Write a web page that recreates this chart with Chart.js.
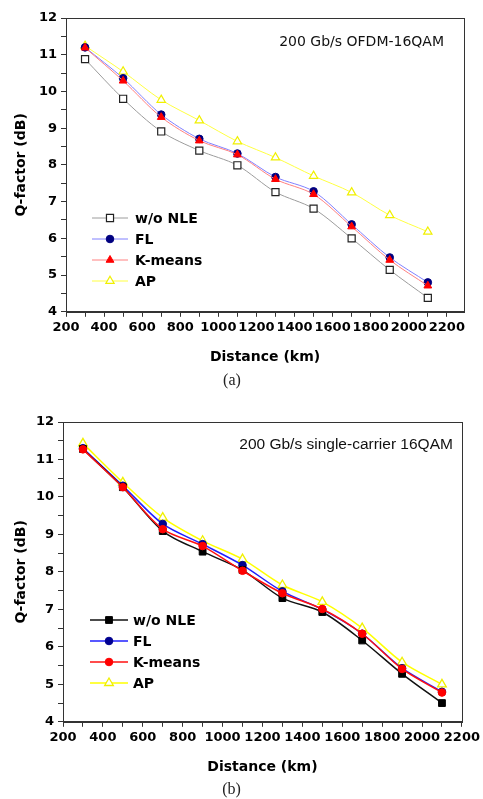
<!DOCTYPE html>
<html>
<head>
<meta charset="utf-8">
<script src="https://cdn.jsdelivr.net/npm/chart.js@4.4.1/dist/chart.umd.min.js"></script>
<style>
  body { margin: 0; background: #fff; width: 483px; height: 799px; overflow: hidden; }
  canvas { position: absolute; left: 0; }
  #chartA { top: 0; }
  #chartB { top: 400px; }
</style>
</head>
<body>
<canvas id="chartA" width="483" height="390"></canvas>
<canvas id="chartB" width="483" height="399"></canvas>
<script>
// distance points (km), shared by both panels
const distances = [300, 500, 700, 900, 1100, 1300, 1500, 1700, 1900, 2100];
const seriesNames = ["w/o NLE", "FL", "K-means", "AP"];

// (a) 200 Gb/s OFDM-16QAM
const ofdmNoNle  = [10.88, 9.80, 8.91, 8.39, 7.99, 7.26, 6.81, 6.00, 5.14, 4.38];
const ofdmFL     = [11.20, 10.36, 9.37, 8.71, 8.31, 7.67, 7.28, 6.38, 5.48, 4.80];
const ofdmKmeans = [11.19, 10.29, 9.30, 8.66, 8.28, 7.61, 7.20, 6.32, 5.41, 4.71];
const ofdmAP     = [11.24, 10.54, 9.77, 9.21, 8.64, 8.20, 7.70, 7.25, 6.63, 6.18];

// (b) 200 Gb/s single-carrier 16QAM
const scNoNle  = [11.28, 10.26, 9.09, 8.54, 8.05, 7.30, 6.93, 6.17, 5.28, 4.50];
const scFL     = [11.30, 10.30, 9.28, 8.74, 8.18, 7.48, 7.00, 6.35, 5.43, 4.80];
const scKmeans = [11.27, 10.26, 9.14, 8.69, 8.03, 7.43, 7.01, 6.35, 5.41, 4.78];
const scAP     = [11.43, 10.39, 9.45, 8.83, 8.34, 7.65, 7.20, 6.50, 5.59, 5.00];

// tick marks: labelled ones plus a minor tick between each pair
const xTickValues = [200, 300, 400, 500, 600, 700, 800, 900, 1000, 1100, 1200,
  1300, 1400, 1500, 1600, 1700, 1800, 1900, 2000, 2100, 2200];
const xTickLabels = [200, 400, 600, 800, 1000, 1200, 1400, 1600, 1800, 2000, 2200];
const yTickValues = [4, 4.5, 5, 5.5, 6, 6.5, 7, 7.5, 8, 8.5, 9, 9.5, 10, 10.5, 11, 11.5, 12];
const yTickLabels = [4, 5, 6, 7, 8, 9, 10, 11, 12];

const sans = "'DejaVu Sans', Verdana, sans-serif";

// frame box, inner note text and inner legend
const notesPlugin = {
  id: "notes",
  afterDraw(chart, args, o) {
    const ctx = chart.ctx, a = chart.chartArea;
    ctx.save();
    ctx.strokeStyle = "#333";
    ctx.lineWidth = 1;
    ctx.strokeRect(Math.round(a.left) + 0.5, Math.round(a.top) + 0.5,
      Math.round(a.right - a.left), Math.round(a.bottom - a.top));

    ctx.font = o.noteFont;
    ctx.fillStyle = "#111";
    ctx.textAlign = "right";
    ctx.textBaseline = "middle";
    ctx.fillText(o.note, a.right - o.noteRight, a.top + o.noteTop);

    chart.data.datasets.forEach((ds, i) => {
      const y = a.top + o.legendTop + i * o.legendGap;
      const x0 = a.left + o.legendLeft;
      ctx.strokeStyle = ds.borderColor;
      ctx.lineWidth = ds.borderWidth;
      ctx.beginPath();
      ctx.moveTo(x0, y);
      ctx.lineTo(x0 + o.lineLen, y);
      ctx.stroke();
      ctx.fillStyle = ds.pointBackgroundColor;
      ctx.strokeStyle = ds.pointBorderColor;
      ctx.lineWidth = ds.pointBorderWidth;
      Chart.helpers.drawPoint(ctx, {
        pointStyle: ds.pointStyle, radius: ds.pointRadius,
        borderWidth: ds.pointBorderWidth, rotation: 0
      }, x0 + o.lineLen / 2, y);
      ctx.fillStyle = "#000";
      ctx.font = o.legendFont;
      ctx.textAlign = "left";
      ctx.fillText(ds.label, x0 + o.lineLen + o.textGap, y + 1);
    });
    ctx.restore();
  }
};

function makeDataset(i, values, st) {
  return {
    label: seriesNames[i],
    data: distances.map((d, k) => ({ x: d, y: values[k] })),
    borderColor: st.line,
    borderWidth: st.width,
    tension: 0.3,
    fill: false,
    pointStyle: st.shape,
    pointRadius: st.r,
    pointHoverRadius: st.r,
    pointBackgroundColor: st.fill,
    pointBorderColor: st.edge,
    pointBorderWidth: st.bw,
    order: st.order
  };
}

function makeChart(id, datasets, p) {
  return new Chart(document.getElementById(id), {
    type: "line",
    data: { datasets: datasets },
    plugins: [notesPlugin],
    options: {
      responsive: false,
      animation: false,
      devicePixelRatio: 1,
      layout: { padding: { top: p.top, right: p.right, left: 0, bottom: 0 } },
      plugins: {
        legend: { display: false },
        tooltip: { enabled: false },
        title: {
          display: true,
          position: "bottom",
          text: p.caption,
          color: "#222",
          font: { family: "'Liberation Serif', serif", size: 16, weight: "normal", lineHeight: 1.2 },
          padding: { top: p.captionPad, bottom: 0 }
        },
        notes: p.notes
      },
      scales: {
        x: {
          type: "linear",
          min: 200,
          max: p.xMax,
          afterBuildTicks: (s) => { s.ticks = xTickValues.map((v) => ({ value: v })); },
          afterFit: (s) => { s.height = p.xHeight; },
          ticks: {
            autoSkip: false,
            maxRotation: 0,
            padding: 3,
            color: "#000",
            font: { family: sans, size: 13, weight: "bold" },
            callback: (v) => (xTickLabels.includes(v) ? v : "")
          },
          grid: { drawOnChartArea: false, tickLength: 5, color: "#333" },
          border: { color: "#333" },
          title: {
            display: true,
            text: "Distance (km)",
            color: "#000",
            font: { family: sans, size: 14, weight: "bold", lineHeight: 1.2 },
            padding: { top: 0, bottom: p.xTitlePad }
          }
        },
        y: {
          type: "linear",
          min: 4,
          max: 12,
          afterBuildTicks: (s) => { s.ticks = yTickValues.map((v) => ({ value: v })); },
          afterFit: (s) => { s.width = p.yWidth; },
          ticks: {
            autoSkip: false,
            padding: 4,
            color: "#000",
            font: { family: sans, size: 13, weight: "bold" },
            callback: (v) => (yTickLabels.includes(v) ? v : "")
          },
          grid: { drawOnChartArea: false, tickLength: 5, color: "#333" },
          border: { color: "#333" },
          title: {
            display: true,
            text: "Q-factor (dB)",
            color: "#000",
            font: { family: sans, size: 14, weight: "bold", lineHeight: 1.2 },
            padding: { top: 13, bottom: 0 }
          }
        }
      }
    }
  });
}

// panel (a): thin pale lines
makeChart("chartA", [
  makeDataset(0, ofdmNoNle,  { line: "#9c9c9c", width: 1, shape: "rect", r: 5, fill: "#fff", edge: "#222", bw: 1.2, order: 1 }),
  makeDataset(1, ofdmFL,     { line: "#8080ff", width: 1, shape: "circle", r: 3.8, fill: "#000080", edge: "#000080", bw: 1, order: 1 }),
  makeDataset(2, ofdmKmeans, { line: "#ff8080", width: 1, shape: "triangle", r: 4.5, fill: "#ff0000", edge: "#ff0000", bw: 1, order: 0 }),
  makeDataset(3, ofdmAP,     { line: "#ffff40", width: 1, shape: "triangle", r: 4.8, fill: "#fff", edge: "#f0f000", bw: 1.2, order: 1 })
], {
  top: 18, right: 19, xMax: 2290, xHeight: 57, xTitlePad: 3, yWidth: 66,
  caption: "(a)", captionPad: 2,
  notes: {
    note: "200 Gb/s OFDM-16QAM", noteFont: "14px " + sans, noteRight: 20, noteTop: 24,
    legendLeft: 26, legendTop: 200, legendGap: 21, lineLen: 36, textGap: 7,
    legendFont: "bold 14px " + sans
  }
});

// panel (b): heavier saturated lines
makeChart("chartB", [
  makeDataset(0, scNoNle,  { line: "#111", width: 1.5, shape: "rect", r: 4.8, fill: "#000", edge: "#000", bw: 1, order: 1 }),
  makeDataset(1, scFL,     { line: "#2020ff", width: 1.5, shape: "circle", r: 3.8, fill: "#000090", edge: "#000090", bw: 1, order: 1 }),
  makeDataset(2, scKmeans, { line: "#ff1010", width: 1.5, shape: "circle", r: 3.8, fill: "#ff0000", edge: "#ff0000", bw: 1, order: 0 }),
  makeDataset(3, scAP,     { line: "#ffff00", width: 1.5, shape: "triangle", r: 5, fill: "#fff", edge: "#f0f000", bw: 1.3, order: 1 })
], {
  top: 22, right: 20, xMax: 2200, xHeight: 56, xTitlePad: 2, yWidth: 63,
  caption: "(b)", captionPad: 2,
  notes: {
    note: "200 Gb/s single-carrier 16QAM", noteFont: "15.5px 'Liberation Sans', Arial, sans-serif", noteRight: 9, noteTop: 23,
    legendLeft: 27, legendTop: 198, legendGap: 21, lineLen: 38, textGap: 5,
    legendFont: "bold 14px " + sans
  }
});
</script>
</body>
</html>
